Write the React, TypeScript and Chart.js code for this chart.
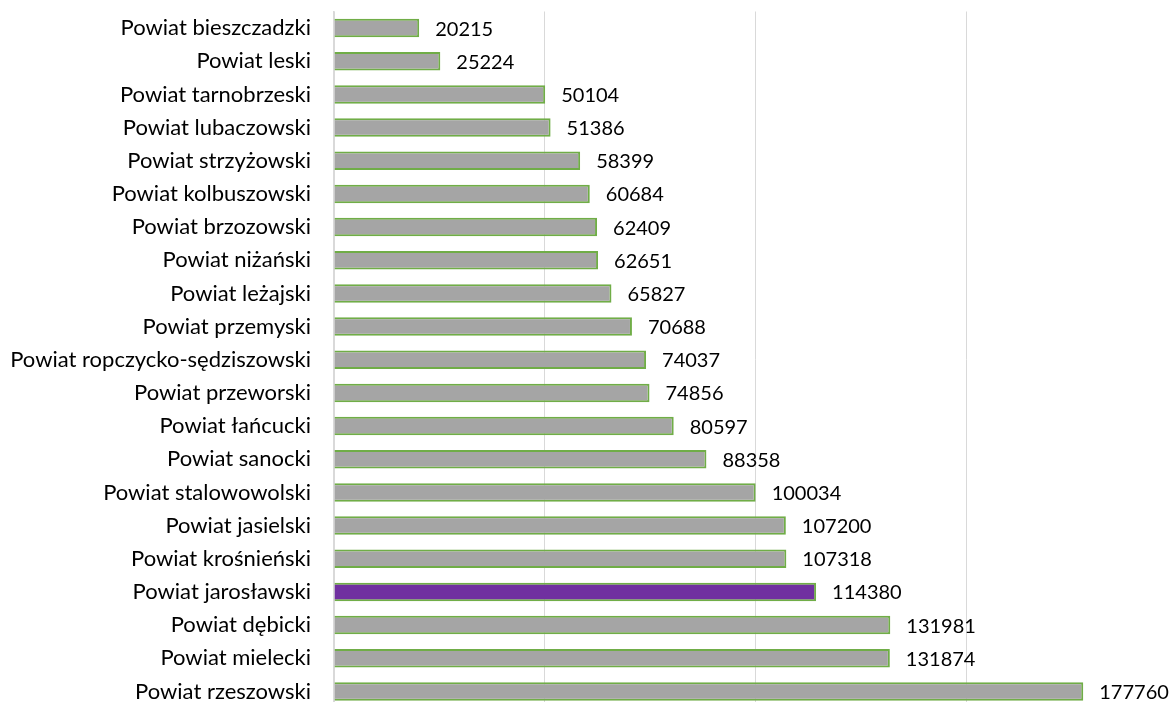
import React, { useEffect, useRef } from "react";
import { Chart, registerables } from "chart.js";

Chart.register(...registerables);

const categories = [
  "Powiat bieszczadzki",
  "Powiat leski",
  "Powiat tarnobrzeski",
  "Powiat lubaczowski",
  "Powiat strzyżowski",
  "Powiat kolbuszowski",
  "Powiat brzozowski",
  "Powiat niżański",
  "Powiat leżajski",
  "Powiat przemyski",
  "Powiat ropczycko-sędziszowski",
  "Powiat przeworski",
  "Powiat łańcucki",
  "Powiat sanocki",
  "Powiat stalowowolski",
  "Powiat jasielski",
  "Powiat krośnieński",
  "Powiat jarosławski",
  "Powiat dębicki",
  "Powiat mielecki",
  "Powiat rzeszowski",
];

const values = [
  20215, 25224, 50104, 51386, 58399, 60684, 62409, 62651, 65827, 70688, 74037,
  74856, 80597, 88358, 100034, 107200, 107318, 114380, 131981, 131874, 177760,
];

const highlighted = "Powiat jarosławski";

const FONT = "Lato, 'Open Sans', sans-serif";

const valueLabels = {
  id: "valueLabels",
  afterDatasetsDraw(chart: any) {
    const ctx = chart.ctx;
    const meta = chart.getDatasetMeta(0);
    ctx.save();
    ctx.font = `20px ${FONT}`;
    ctx.fillStyle = "#000000";
    ctx.textAlign = "left";
    ctx.textBaseline = "middle";
    meta.data.forEach((el: any, i: number) => {
      ctx.fillText(String(values[i]), el.x + 16, el.y + 1);
    });
    ctx.restore();
  },
};

export default function App() {
  const ref = useRef<HTMLCanvasElement | null>(null);
  useEffect(() => {
    if (!ref.current) return;
    const chart = new Chart(ref.current, {
      type: "bar",
      data: {
        labels: categories,
        datasets: [
          {
            data: values,
            backgroundColor: categories.map((c) =>
              c === highlighted ? "#7030A0" : "#A5A5A5"
            ),
            borderColor: "#70AD47",
            borderWidth: 2,
            barPercentage: 0.56,
            categoryPercentage: 1,
          },
        ],
      },
      options: {
        indexAxis: "y",
        animation: false,
        responsive: false,
        maintainAspectRatio: false,
        layout: {
          autoPadding: false,
          padding: { top: 11.5, right: 0, bottom: 0, left: 0 },
        },
        plugins: { legend: { display: false }, tooltip: { enabled: false } },
        scales: {
          x: {
            min: 0,
            max: 200000,
            ticks: { display: false, stepSize: 50000 },
            grid: { color: "#D9D9D9", lineWidth: 1, drawTicks: false },
            border: { display: false },
            afterFit: (scale: any) => {
              scale.height = 0;
              scale.paddingLeft = 0;
              scale.paddingRight = 0;
            },
          },
          y: {
            ticks: {
              color: "#000000",
              font: { family: FONT, size: 22 },
              padding: 23,
            },
            grid: { display: false, drawTicks: false },
            border: { display: true, color: "#D9D9D9", width: 1.5 },
            afterFit: (scale: any) => {
              scale.width = 334;
              scale.paddingTop = 0;
              scale.paddingBottom = 0;
            },
          },
        },
      },
      plugins: [valueLabels],
    });
    return () => chart.destroy();
  }, []);
  return (
    <div
      style={{
        position: "fixed",
        left: 0,
        top: 0,
        width: 1176,
        height: 702,
        overflow: "hidden",
        background: "#ffffff",
      }}
    >
      <canvas ref={ref} width={1177} height={708} style={{ display: "block" }} />
    </div>
  );
}
